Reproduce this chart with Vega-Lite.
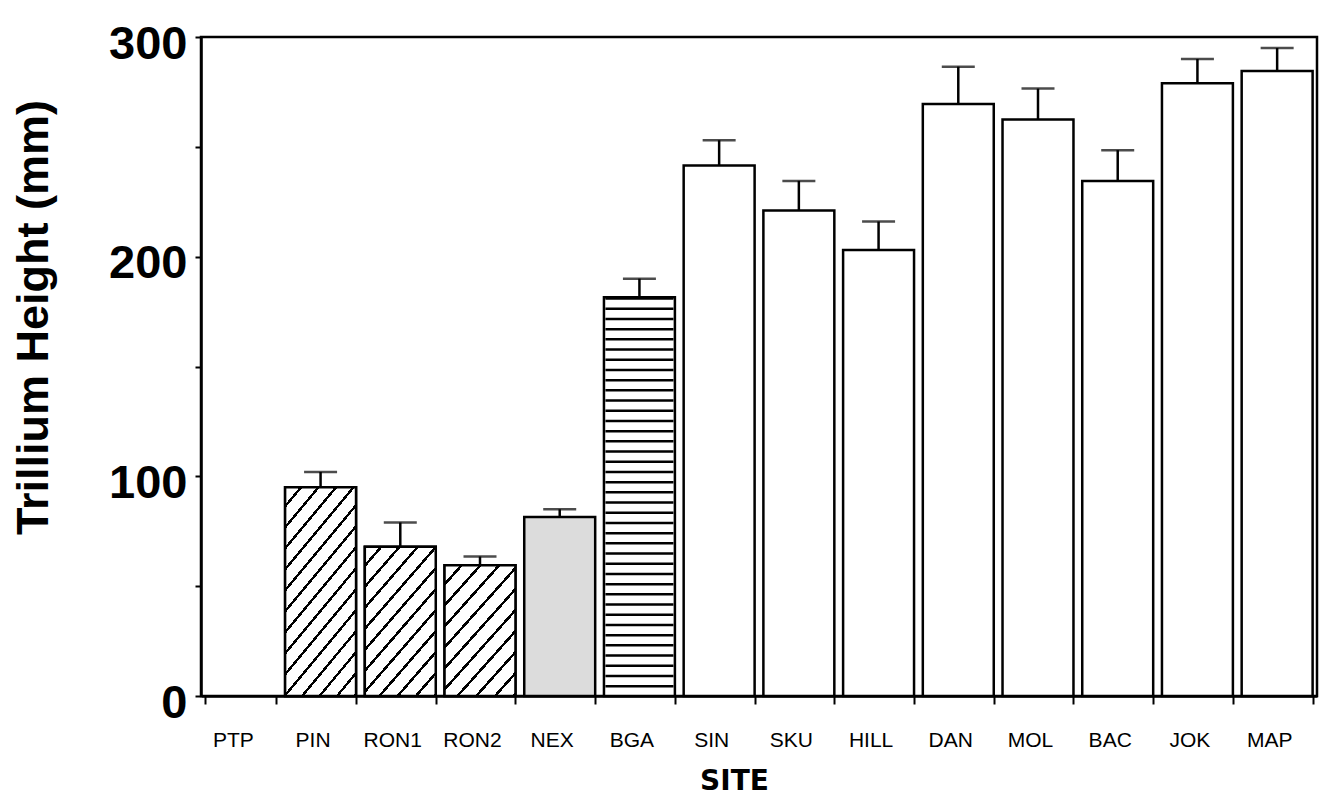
{
  "$schema": "https://vega.github.io/schema/vega-lite/v6.json",
  "autosize": {"type": "none"},
  "padding": {"left": 201, "top": 37, "right": 12, "bottom": 104},
  "width": 1116,
  "height": 659,
  "background": "white",
  "config": {
    "view": {"stroke": "black", "strokeWidth": 2.5},
    "axis": {"domainColor": "black", "domainWidth": 2.5, "tickColor": "black", "tickWidth": 2, "labelColor": "black", "titleColor": "black", "grid": false}
  },
  "data": {"values": [
    {"site": "PTP", "height": null, "errTop": null},
    {"site": "PIN", "height": 95, "errTop": 102},
    {"site": "RON1", "height": 68, "errTop": 79},
    {"site": "RON2", "height": 59.5, "errTop": 63.5},
    {"site": "NEX", "height": 81.5, "errTop": 85},
    {"site": "BGA", "height": 181.5, "errTop": 190},
    {"site": "SIN", "height": 241.5, "errTop": 253},
    {"site": "SKU", "height": 221, "errTop": 234.5},
    {"site": "HILL", "height": 203, "errTop": 216},
    {"site": "DAN", "height": 269.5, "errTop": 286.5},
    {"site": "MOL", "height": 262.5, "errTop": 276.5},
    {"site": "BAC", "height": 234.5, "errTop": 248.5},
    {"site": "JOK", "height": 279, "errTop": 290},
    {"site": "MAP", "height": 284.5, "errTop": 295}
  ]},
  "encoding": {
    "x": {
      "field": "site", "type": "nominal",
      "scale": {"domain": ["PTP","PIN","RON1","RON2","NEX","BGA","SIN","SKU","HILL","DAN","MOL","BAC","JOK","MAP"], "paddingInner": 0.11, "paddingOuter": 0.055},
      "axis": {"title": "SITE", "labelAngle": 0, "tickBand": "extent", "tickSize": 8, "tickWidth": 2, "labelFont": "Liberation Sans", "labelFontSize": 21, "labelBaseline": "alphabetic", "labelPadding": 42, "labelOffset": -8, "titleFont": "DejaVu Sans", "titleFontSize": 28, "titleFontWeight": "bold", "titleX": 533, "titleY": 93, "titleBaseline": "alphabetic", "titleAlign": "center"}
    },
    "y": {
      "field": "height", "type": "quantitative",
      "scale": {"domain": [0, 300], "nice": false, "zero": true},
      "axis": {"title": "Trillium Height (mm)", "values": [0,50,100,150,200,250,300], "labelExpr": "datum.value % 100 === 0 ? datum.label : ''", "labelFont": "Liberation Sans", "labelFontSize": 47, "labelFontWeight": "bold", "labelPadding": 8, "tickSize": 6, "labelOffset": 7, "labelFlush": false, "labelBound": false, "labelOverlap": false, "titleFont": "Liberation Sans", "titleFontSize": 45, "titleFontWeight": "bold", "titleAngle": -90, "titleX": -154, "titleY": 280, "titleAlign": "center", "titleBaseline": "alphabetic"}
    }
  },
  "layer": [
    {
      "transform": [{"filter": "datum.height != null"}],
      "mark": {"type": "bar", "stroke": "black", "strokeWidth": 2.5, "fillOpacity": 1},
      "encoding": {
        "fill": {"condition": {"test": "datum.site === 'NEX'", "value": "#dcdcdc"}, "value": "white"}
      }
    },
    {
      "transform": [{"filter": "datum.site === 'PIN'"}],
      "mark": {"type": "bar", "stroke": "black", "strokeWidth": 2.5, "fill": {"gradient": "linear", "x1": 0, "y1": 0, "x2": 0.4931, "y2": 1.2071, "stops": [
        {"offset": 0, "color": "white"}, {"offset": 0.0586, "color": "white"}, {"offset": 0.0586, "color": "black"}, {"offset": 0.0714, "color": "black"},
        {"offset": 0.0714, "color": "white"}, {"offset": 0.13, "color": "white"}, {"offset": 0.13, "color": "black"}, {"offset": 0.1429, "color": "black"},
        {"offset": 0.1429, "color": "white"}, {"offset": 0.2014, "color": "white"}, {"offset": 0.2014, "color": "black"}, {"offset": 0.2143, "color": "black"},
        {"offset": 0.2143, "color": "white"}, {"offset": 0.2729, "color": "white"}, {"offset": 0.2729, "color": "black"}, {"offset": 0.2857, "color": "black"},
        {"offset": 0.2857, "color": "white"}, {"offset": 0.3443, "color": "white"}, {"offset": 0.3443, "color": "black"}, {"offset": 0.3571, "color": "black"},
        {"offset": 0.3571, "color": "white"}, {"offset": 0.4157, "color": "white"}, {"offset": 0.4157, "color": "black"}, {"offset": 0.4286, "color": "black"},
        {"offset": 0.4286, "color": "white"}, {"offset": 0.4871, "color": "white"}, {"offset": 0.4871, "color": "black"}, {"offset": 0.5, "color": "black"},
        {"offset": 0.5, "color": "white"}, {"offset": 0.5586, "color": "white"}, {"offset": 0.5586, "color": "black"}, {"offset": 0.5714, "color": "black"},
        {"offset": 0.5714, "color": "white"}, {"offset": 0.63, "color": "white"}, {"offset": 0.63, "color": "black"}, {"offset": 0.6429, "color": "black"},
        {"offset": 0.6429, "color": "white"}, {"offset": 0.7014, "color": "white"}, {"offset": 0.7014, "color": "black"}, {"offset": 0.7143, "color": "black"},
        {"offset": 0.7143, "color": "white"}, {"offset": 0.7729, "color": "white"}, {"offset": 0.7729, "color": "black"}, {"offset": 0.7857, "color": "black"},
        {"offset": 0.7857, "color": "white"}, {"offset": 0.8443, "color": "white"}, {"offset": 0.8443, "color": "black"}, {"offset": 0.8571, "color": "black"},
        {"offset": 0.8571, "color": "white"}, {"offset": 0.9157, "color": "white"}, {"offset": 0.9157, "color": "black"}, {"offset": 0.9286, "color": "black"},
        {"offset": 0.9286, "color": "white"}, {"offset": 0.9871, "color": "white"}, {"offset": 0.9871, "color": "black"}, {"offset": 1, "color": "black"}
      ]}}
    },
    {
      "transform": [{"filter": "datum.site === 'RON1'"}],
      "mark": {"type": "bar", "stroke": "black", "strokeWidth": 2.5, "fill": {"gradient": "linear", "x1": 0, "y1": 0, "x2": 0.6515, "y2": 1.1908, "stops": [
        {"offset": 0, "color": "white"}, {"offset": 0.0745, "color": "white"}, {"offset": 0.0745, "color": "black"}, {"offset": 0.0909, "color": "black"},
        {"offset": 0.0909, "color": "white"}, {"offset": 0.1655, "color": "white"}, {"offset": 0.1655, "color": "black"}, {"offset": 0.1818, "color": "black"},
        {"offset": 0.1818, "color": "white"}, {"offset": 0.2564, "color": "white"}, {"offset": 0.2564, "color": "black"}, {"offset": 0.2727, "color": "black"},
        {"offset": 0.2727, "color": "white"}, {"offset": 0.3473, "color": "white"}, {"offset": 0.3473, "color": "black"}, {"offset": 0.3636, "color": "black"},
        {"offset": 0.3636, "color": "white"}, {"offset": 0.4382, "color": "white"}, {"offset": 0.4382, "color": "black"}, {"offset": 0.4545, "color": "black"},
        {"offset": 0.4545, "color": "white"}, {"offset": 0.5291, "color": "white"}, {"offset": 0.5291, "color": "black"}, {"offset": 0.5455, "color": "black"},
        {"offset": 0.5455, "color": "white"}, {"offset": 0.62, "color": "white"}, {"offset": 0.62, "color": "black"}, {"offset": 0.6364, "color": "black"},
        {"offset": 0.6364, "color": "white"}, {"offset": 0.7109, "color": "white"}, {"offset": 0.7109, "color": "black"}, {"offset": 0.7273, "color": "black"},
        {"offset": 0.7273, "color": "white"}, {"offset": 0.8018, "color": "white"}, {"offset": 0.8018, "color": "black"}, {"offset": 0.8182, "color": "black"},
        {"offset": 0.8182, "color": "white"}, {"offset": 0.8927, "color": "white"}, {"offset": 0.8927, "color": "black"}, {"offset": 0.9091, "color": "black"},
        {"offset": 0.9091, "color": "white"}, {"offset": 0.9836, "color": "white"}, {"offset": 0.9836, "color": "black"}, {"offset": 1, "color": "black"}
      ]}}
    },
    {
      "transform": [{"filter": "datum.site === 'RON2'"}],
      "mark": {"type": "bar", "stroke": "black", "strokeWidth": 2.5, "fill": {"gradient": "linear", "x1": 0, "y1": 0, "x2": 0.7135, "y2": 1.174, "stops": [
        {"offset": 0, "color": "white"}, {"offset": 0.082, "color": "white"}, {"offset": 0.082, "color": "black"}, {"offset": 0.1, "color": "black"},
        {"offset": 0.1, "color": "white"}, {"offset": 0.182, "color": "white"}, {"offset": 0.182, "color": "black"}, {"offset": 0.2, "color": "black"},
        {"offset": 0.2, "color": "white"}, {"offset": 0.282, "color": "white"}, {"offset": 0.282, "color": "black"}, {"offset": 0.3, "color": "black"},
        {"offset": 0.3, "color": "white"}, {"offset": 0.382, "color": "white"}, {"offset": 0.382, "color": "black"}, {"offset": 0.4, "color": "black"},
        {"offset": 0.4, "color": "white"}, {"offset": 0.482, "color": "white"}, {"offset": 0.482, "color": "black"}, {"offset": 0.5, "color": "black"},
        {"offset": 0.5, "color": "white"}, {"offset": 0.582, "color": "white"}, {"offset": 0.582, "color": "black"}, {"offset": 0.6, "color": "black"},
        {"offset": 0.6, "color": "white"}, {"offset": 0.682, "color": "white"}, {"offset": 0.682, "color": "black"}, {"offset": 0.7, "color": "black"},
        {"offset": 0.7, "color": "white"}, {"offset": 0.782, "color": "white"}, {"offset": 0.782, "color": "black"}, {"offset": 0.8, "color": "black"},
        {"offset": 0.8, "color": "white"}, {"offset": 0.882, "color": "white"}, {"offset": 0.882, "color": "black"}, {"offset": 0.9, "color": "black"},
        {"offset": 0.9, "color": "white"}, {"offset": 0.982, "color": "white"}, {"offset": 0.982, "color": "black"}, {"offset": 1, "color": "black"}
      ]}}
    },
    {
      "transform": [{"filter": "datum.site === 'BGA'"}],
      "mark": {"type": "rule", "color": "black", "strokeWidth": 68, "strokeDash": [2.5, 7.7], "strokeCap": "butt"},
      "encoding": {"y2": {"datum": 0}}
    },
    {
      "transform": [{"filter": "datum.height != null"}],
      "mark": {"type": "rule", "color": "black", "strokeWidth": 2.5},
      "encoding": {"y2": {"field": "errTop"}}
    },
    {
      "transform": [{"filter": "datum.height != null"}],
      "mark": {"type": "tick", "color": "black", "thickness": 2.5},
      "encoding": {"y": {"field": "errTop", "type": "quantitative"}, "size": {"value": 33}}
    }
  ]
}
